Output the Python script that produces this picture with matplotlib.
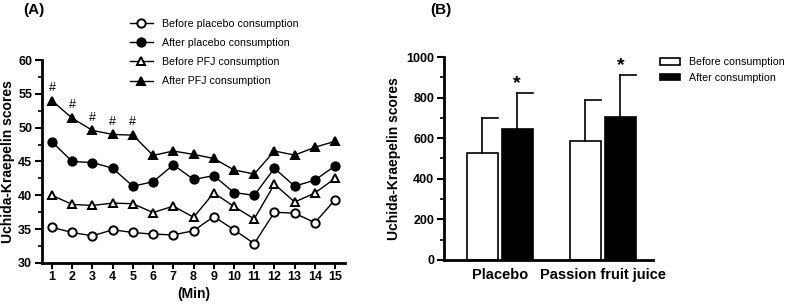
import numpy as np
import matplotlib.pyplot as plt
from matplotlib.ticker import MultipleLocator

plt.rcParams["font.family"] = ["Liberation Sans", "DejaVu Sans"]

# Panel A data
minutes = np.arange(1, 16)
before_placebo = [35.25, 34.5, 34.0, 34.9, 34.5, 34.25, 34.15, 34.75, 36.85, 34.9,
                  32.85, 37.5, 37.35, 35.95, 39.35]
after_placebo = [47.9, 45.0, 44.85, 44.0, 41.35, 42.0, 44.5, 42.35, 42.9, 40.4,
                 40.0, 44.0, 41.35, 42.25, 44.35]
before_pfj = [40.0, 38.65, 38.5, 38.85, 38.75, 37.45, 38.4, 36.75, 40.35, 38.35,
              36.5, 41.65, 39.0, 40.35, 42.5]
after_pfj = [54.0, 51.4, 49.6, 49.0, 48.9, 45.9, 46.55, 46.05, 45.45, 43.75,
             43.15, 46.55, 45.95, 47.1, 48.0]
hash_minutes = [1, 2, 3, 4, 5]

# Panel B data
groups = ["Placebo", "Passion fruit juice"]
before_mean = [525, 585]
before_sd = [173, 205]
after_mean = [645, 705]
after_sd = [177, 205]

fig = plt.figure(figsize=(7.9, 3.05), dpi=100)

# ---- Panel A
ax = fig.add_axes([0.053, 0.138, 0.384, 0.665])
series = [
    (before_placebo, "o", "white", "Before placebo consumption"),
    (after_placebo, "o", "black", "After placebo consumption"),
    (before_pfj, "^", "white", "Before PFJ consumption"),
    (after_pfj, "^", "black", "After PFJ consumption"),
]
for vals, mk, fc, lab in series:
    ax.plot(minutes, vals, "-", color="black", lw=1, marker=mk, ms=6,
            mfc=fc, mec="black", mew=1.4, label=lab, clip_on=False)

for m in hash_minutes:
    ax.text(m, after_pfj[m - 1] + 1.0, "#", ha="center", va="bottom", fontsize=9)

ax.set_xlim(0.5, 15.5)
ax.set_ylim(30, 60)
ax.set_xticks(minutes)
ax.yaxis.set_major_locator(MultipleLocator(5))
ax.yaxis.set_minor_locator(MultipleLocator(2.5))
ax.set_xlabel("(Min)", fontsize=10, fontweight="bold", labelpad=3)
ax.set_ylabel("Uchida-Kraepelin scores", fontsize=10, fontweight="bold", labelpad=2)
ax.legend(loc="upper left", bbox_to_anchor=(0.275, 1.225), frameon=False, fontsize=7.7,
          handlelength=2.2, labelspacing=0.86, borderaxespad=0)

# ---- Panel B
bx = fig.add_axes([0.562, 0.148, 0.265, 0.665])
x = np.arange(len(groups))
w = 0.30
off = 0.17
bx.bar(x - off, before_mean, w, color="white", edgecolor="black", lw=1.2,
       label="Before consumption")
bx.bar(x + off, after_mean, w, color="black", edgecolor="black", lw=1.2,
       label="After consumption")
for xi, m, s in zip(x - off, before_mean, before_sd):
    bx.plot([xi, xi], [m, m + s], color="black", lw=1.2)
    bx.plot([xi, xi + w / 2], [m + s, m + s], color="black", lw=1.2)
for xi, m, s in zip(x + off, after_mean, after_sd):
    bx.plot([xi, xi], [m, m + s], color="black", lw=1.2)
    bx.plot([xi, xi + w / 2], [m + s, m + s], color="black", lw=1.2)
    bx.text(xi, m + s + 5, "*", ha="center", va="bottom", fontsize=14,
            fontweight="bold")

bx.set_xlim(-0.54, 1.49)
bx.set_ylim(0, 1000)
bx.set_xticks(x)
bx.set_xticklabels(groups, fontsize=10.5, fontweight="bold")
bx.tick_params(axis="x", length=0, pad=6)
bx.yaxis.set_major_locator(MultipleLocator(200))
bx.yaxis.set_minor_locator(MultipleLocator(100))
bx.set_ylabel("Uchida-Kraepelin scores", fontsize=10, fontweight="bold", labelpad=4)
bx.legend(loc="upper left", bbox_to_anchor=(1.01, 1.02), frameon=False, fontsize=7.7,
          handlelength=1.9, handleheight=0.5, labelspacing=0.55, borderaxespad=0)

for a in (ax, bx):
    for s in ("top", "right"):
        a.spines[s].set_visible(False)
    for s in ("left", "bottom"):
        a.spines[s].set_linewidth(2)
    a.tick_params(axis="y", which="major", direction="out", length=5, width=1.5,
                  labelsize=9, pad=2)
    a.tick_params(axis="y", which="minor", direction="out", length=3, width=1.2)
    for lbl in a.get_yticklabels():
        lbl.set_fontweight("bold")
ax.tick_params(axis="x", direction="out", length=4, width=1.5, labelsize=9, pad=2)
for lbl in ax.get_xticklabels():
    lbl.set_fontweight("bold")

fig.text(0.03, 0.955, "(A)", fontsize=11, fontweight="bold")
fig.text(0.545, 0.955, "(B)", fontsize=11, fontweight="bold")

fig.savefig("out.png", dpi=100)
